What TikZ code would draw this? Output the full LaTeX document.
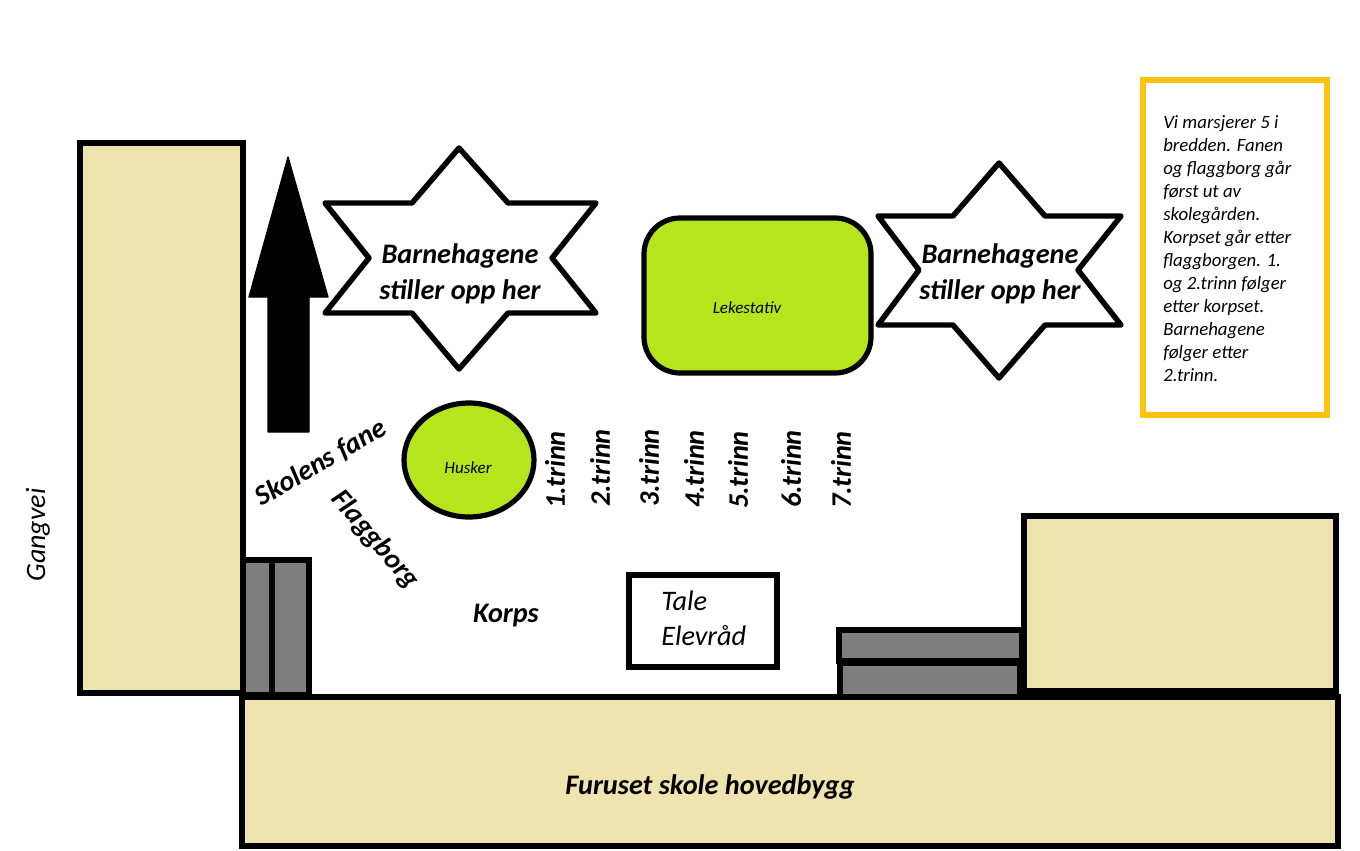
\documentclass[tikz,border=0pt]{standalone}
\usepackage{fontspec}
\setmainfont{Carlito}
\definecolor{tan}{HTML}{EFE4B0}
\definecolor{lime}{HTML}{B5E61D}
\definecolor{greyfill}{HTML}{7F7F7F}
\definecolor{amber}{HTML}{FFC20E}
\tikzset{
  px/.style={x=0.75pt,y=-0.75pt},
  thick line/.style={draw=black,line width=3.9pt,line join=miter},
  building/.style={thick line,fill=tan},
  stairs/.style={thick line,fill=greyfill},
  play/.style={thick line,fill=lime},
  starshape/.style={draw=black,line width=4.1pt,line join=round,fill=white},
  bigbold/.style={font=\bfseries\itshape\fontsize{21.2pt}{27pt}\selectfont,align=center,inner sep=0pt},
  label/.style={font=\bfseries\itshape\fontsize{21.2pt}{25pt}\selectfont,inner sep=0pt},
  small/.style={font=\itshape\fontsize{12.8pt}{14pt}\selectfont,inner sep=0pt},
  trinn/.style={font=\bfseries\itshape\fontsize{21.2pt}{25pt}\selectfont,inner sep=0pt,rotate=90}
}
\begin{document}
\begin{tikzpicture}[px]
\useasboundingbox (0,0) rectangle (1360,850);
\fill[white] (0,0) rectangle (1360,850);
% buildings
\draw[building] (80,143) rectangle (243,693);
\draw[stairs] (243,560) rectangle (272,695);
\draw[stairs] (272,560) rectangle (309,695);
\draw[stairs] (840,663) rectangle (1020,697);
\draw[stairs] (839,630) rectangle (1022,661);
\draw[building] (1024,516) rectangle (1336,691);
\draw[building] (242,697) rectangle (1338,846);
% arrow
\fill[black,draw=black,line width=1pt,line join=round] (288,157) -- (328,297) -- (309,297) -- (309,432) -- (268,432) -- (268,297) -- (249,297) -- cycle;
% stars
\draw[starshape] (459,148) -- (508,203) -- (596,203) -- (552,258) -- (596,313) -- (508,313) -- (459,369) -- (412,313) -- (325,313) -- (369,258) -- (325,203) -- (412,203) -- cycle;
\draw[starshape] (999,163) -- (1045,216) -- (1121,216) -- (1078,270) -- (1121,325) -- (1045,325) -- (999,378) -- (953,325) -- (878,325) -- (919,270) -- (878,216) -- (953,216) -- cycle;
\node[bigbold] (star1) at (460,274) {Barnehagene\\stiller opp her};
\node[bigbold] (star2) at (1000,274) {Barnehagene\\stiller opp her};
% playground
\draw[play,rounded corners=27pt] (644,218) rectangle (871,373);
\node[small] (leke) at (747,308) {Lekestativ};
\draw[play] (469,460) ellipse (65 and 57);
\node[small] (husker) at (468,468) {Husker};
% labels
\node[trinn] (t1) at (555,470) {1.trinn};
\node[trinn] (t2) at (600,468) {2.trinn};
\node[trinn] (t3) at (649,468) {3.trinn};
\node[trinn] (t4) at (694,469) {4.trinn};
\node[trinn] (t5) at (738,470) {5.trinn};
\node[trinn] (t6) at (791,469) {6.trinn};
\node[trinn] (t7) at (841,470) {7.trinn};
\node[label,rotate=30] (fane) at (321,463) {Skolens fane};
\node[label,rotate=-49] (flagg) at (375,540) {Flaggborg};
\node[label] (korps) at (506,616) {Korps};
\draw[draw=black,line width=3.9pt] (629,575) rectangle (777,667);
\node[font=\itshape\fontsize{21.2pt}{26pt}\selectfont,align=left,inner sep=0pt,anchor=north west] (tale) at (661,591) {Tale\\Elevråd};
\node[label] (hoved) at (710,787) {Furuset skole hovedbygg};
\node[font=\itshape\fontsize{21pt}{25pt}\selectfont,inner sep=0pt,rotate=90] (gang) at (38,535) {Gangvei};
% note
\draw[draw=amber,line width=3.9pt,fill=white] (1143,80) rectangle (1327,415);
\node[font=\itshape\fontsize{14.1pt}{17.3pt}\selectfont,align=left,inner sep=0pt,anchor=north west] (note) at (1163,115) {Vi marsjerer 5 i\\bredden. Fanen\\og flaggborg går\\først ut av\\skolegården.\\Korpset går etter\\flaggborgen. 1.\\og 2.trinn følger\\etter korpset.\\Barnehagene\\følger etter\\2.trinn.};
\end{tikzpicture}
\end{document}
